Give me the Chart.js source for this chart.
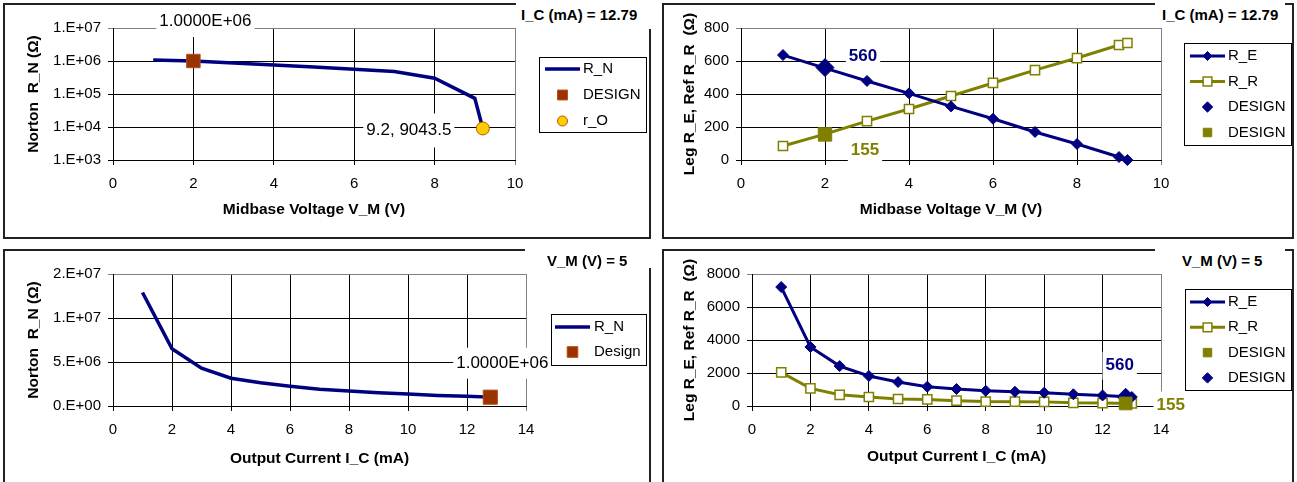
<!DOCTYPE html>
<html>
<head>
<meta charset="utf-8">
<script src="https://cdn.jsdelivr.net/npm/chart.js@4.4.0/dist/chart.umd.min.js"></script>
<style>
body { margin: 0; width: 1297px; height: 482px; overflow: hidden; position: relative; background: #fff; font-family: 'Liberation Sans', Arial, sans-serif; }
.panel { position: absolute; box-sizing: border-box; border: 2px solid #222; }
canvas { position: absolute; }
.tag { position: absolute; background: #fff; font-weight: bold; font-size: 15px; white-space: nowrap; color: #000; }
</style>
</head>
<body>
<div class="panel" style="left:3px;top:3px;width:648px;height:236px"></div>
<div class="panel" style="left:662px;top:3px;width:632px;height:236px"></div>
<div class="panel" style="left:3px;top:249px;width:648px;height:240px"></div>
<div class="panel" style="left:662px;top:249px;width:632px;height:240px"></div>

<canvas id="tl" width="647" height="235" style="left:3px;top:3px"></canvas>
<canvas id="tr" width="631" height="235" style="left:662px;top:3px"></canvas>
<canvas id="bl" width="647" height="231" style="left:3px;top:249px"></canvas>
<canvas id="br" width="631" height="231" style="left:662px;top:249px"></canvas>

<div class="tag" style="left:516px;top:1px;width:132px;height:28px;line-height:28px;padding-left:5px">I_C (mA) = 12.79</div>
<div class="tag" style="left:1155px;top:1px;width:123px;height:27px;line-height:28px;padding-left:7px">I_C (mA) = 12.79</div>
<div class="tag" style="left:525px;top:247px;width:106px;height:21px;line-height:28px;padding-left:22px">V_M (V) = 5</div>
<div class="tag" style="left:1155px;top:247px;width:103px;height:22px;line-height:28px;padding-left:27px">V_M (V) = 5</div>

<script>
// ---- data ----
// top row: sweep of midbase voltage V_M at I_C = 12.79 mA
const vmSweep = [1, 2, 3, 4, 5, 6, 7, 8, 9, 9.2];
const rnVsVm = [1.07e6, 1.0e6, 8.7e5, 7.6e5, 6.6e5, 5.6e5, 4.8e5, 3.0e5, 7.4e4, 9043.5];
const reVsVm = [636, 557, 479, 404, 325, 250, 170, 97, 18, 0];
const rrVsVm = [85, 157, 236, 309, 388, 467, 545, 618, 697, 709];
const vmDesign = 2;
const rnDesignVm = 1.0e6;
const reDesignVm = 560;
const rrDesignVm = 155;
const roPoint = [9.2, 9043.5];

// bottom row: sweep of output current I_C at V_M = 5 V
const icSweep = [1, 2, 3, 4, 5, 6, 7, 8, 9, 10, 11, 12, 13];
const rnVsIc = [1.29e7, 6.5e6, 4.3e6, 3.15e6, 2.65e6, 2.25e6, 1.9e6, 1.7e6, 1.5e6, 1.35e6, 1.2e6, 1.1e6, 9.8e5];
const reVsIc = [7210, 3580, 2420, 1820, 1450, 1170, 1030, 925, 865, 805, 710, 640, 545];
const rrVsIc = [2040, 1070, 680, 545, 425, 400, 320, 270, 260, 250, 190, 180, 150];
const icDesign = 12.79;
const rnDesignIc = 1.0e6;
const reDesignIc = 560;
const rrDesignIc = 155;

// axis tick values
const logDecades = [1e3, 1e4, 1e5, 1e6, 1e7];

const NAVY = '#000080';
const OLIVE = '#808000';
const BROWN = '#993300';
const YELLOW = '#FFCC00';
const FONT = "'Liberation Sans', Arial, sans-serif";

Chart.defaults.font.family = FONT;
Chart.defaults.font.size = 15;
Chart.defaults.color = '#000';

function pts(xs, ys) {
  return xs.map((x, i) => ({ x: x, y: ys[i] }));
}

function sciTick(v) {
  if (v === 0) return '0.E+00';
  let e = Math.floor(Math.log10(v) + 1e-9);
  let m = Math.round(v / Math.pow(10, e));
  if (m === 10) { m = 1; e++; }
  return m + '.E' + (e < 0 ? '-' : '+') + String(Math.abs(e)).padStart(2, '0');
}

function drawMarker(ctx, style, x, y, r, fill, stroke, lw) {
  ctx.save();
  ctx.beginPath();
  if (style === 'rectRot') {
    ctx.moveTo(x - r, y); ctx.lineTo(x, y - r); ctx.lineTo(x + r, y); ctx.lineTo(x, y + r); ctx.closePath();
  } else if (style === 'rect') {
    const s = r * Math.SQRT1_2;
    ctx.rect(x - s, y - s, 2 * s, 2 * s);
  } else {
    ctx.arc(x, y, r, 0, Math.PI * 2);
  }
  ctx.fillStyle = fill;
  ctx.fill();
  if (lw > 0) { ctx.strokeStyle = stroke; ctx.lineWidth = lw; ctx.stroke(); }
  ctx.restore();
}

// excel style legend box, drawn from the datasets themselves
const boxLegend = {
  id: 'boxLegend',
  afterDraw(chart, args, opts) {
    if (!opts.w) return;
    const ctx = chart.ctx;
    ctx.save();
    ctx.fillStyle = '#fff';
    ctx.fillRect(opts.x, opts.y, opts.w, opts.h);
    ctx.strokeStyle = '#000';
    ctx.lineWidth = 1;
    ctx.strokeRect(opts.x + 0.5, opts.y + 0.5, opts.w, opts.h);
    ctx.font = '15px ' + FONT;
    ctx.textBaseline = 'middle';
    chart.data.datasets.forEach((ds, i) => {
      const y = opts.rowY + i * opts.rowGap;
      if (ds.showLine) {
        ctx.strokeStyle = ds.borderColor;
        ctx.lineWidth = ds.borderWidth;
        ctx.beginPath();
        ctx.moveTo(opts.lineX0, y);
        ctx.lineTo(opts.lineX1, y);
        ctx.stroke();
      }
      const r = opts.radius[i];
      if (r) {
        drawMarker(ctx, ds.pointStyle, (opts.lineX0 + opts.lineX1) / 2, y, r,
          ds.pointBackgroundColor, ds.pointBorderColor, Math.min(ds.pointBorderWidth || 0, 1.5));
      }
      ctx.fillStyle = '#000';
      ctx.fillText(ds.label, opts.textX, y);
    });
    ctx.restore();
  }
};

// value labels with a white backing, placed relative to a data point
const pointTags = {
  id: 'pointTags',
  afterDatasetsDraw(chart, args, opts) {
    const ctx = chart.ctx;
    (opts.items || []).forEach(t => {
      const el = chart.getDatasetMeta(t.ds).data[t.idx];
      const x = el.x + t.dx;
      const y = el.y + t.dy;
      ctx.save();
      ctx.font = (t.bold ? 'bold ' : '') + '17px ' + FONT;
      const w = ctx.measureText(t.text).width + 6;
      ctx.fillStyle = '#fff';
      ctx.fillRect(x - w / 2, y - t.h / 2, w, t.h);
      ctx.fillStyle = t.color || '#000';
      ctx.textAlign = 'center';
      ctx.textBaseline = 'middle';
      ctx.fillText(t.text, x, y);
      ctx.restore();
    });
  }
};

function gridColor(max) {
  return c => (c.tick && Math.abs(c.tick.value - max) < 1e-6 * Math.max(1, max)) ? '#808080' : '#000';
}

function xAxis(max, title, height, titlePad) {
  return {
    type: 'linear', min: 0, max: max,
    ticks: { stepSize: 2, padding: 10, color: '#000', font: { size: 15 } },
    grid: { color: gridColor(max), tickLength: 5, lineWidth: 1 },
    border: { color: '#000', width: 1 },
    title: { display: true, text: title, color: '#000', font: { size: 15.5, weight: 'bold' }, padding: { top: 0, bottom: titlePad } },
    afterFit: s => { s.height = height; }
  };
}

function yAxis(extra, max, title, width, titlePad) {
  return Object.assign({
    ticks: { padding: 7, color: '#000', font: { size: 15 } },
    grid: { color: gridColor(max), tickLength: 5, lineWidth: 1 },
    border: { color: '#000', width: 1 },
    title: { display: true, text: title, color: '#000', font: { size: 15.5, weight: 'bold' }, padding: { top: titlePad, bottom: 0 } },
    afterFit: s => { s.width = width; }
  }, extra);
}

function baseOptions(padRight, scales, legend, tags) {
  return {
    responsive: false,
    animation: false,
    events: [],
    devicePixelRatio: 1,
    layout: { padding: { left: 0, top: 25, right: padRight, bottom: 0 } },
    scales: scales,
    plugins: { legend: { display: false }, tooltip: { enabled: false }, boxLegend: legend, pointTags: { items: tags } }
  };
}

// ---- top left: Norton R_N vs V_M (log) ----
const tlY = yAxis({ type: 'logarithmic', min: 1e3, max: 1e7 }, 1e7, 'Norton  R_N (Ω)', 110, 21);
tlY.afterBuildTicks = s => { s.ticks = logDecades.map(v => ({ value: v })); };
tlY.ticks.callback = v => sciTick(v);
new Chart(document.getElementById('tl'), {
  type: 'scatter',
  data: {
    datasets: [
      { label: 'R_N', data: pts(vmSweep, rnVsVm), showLine: true, borderColor: NAVY, borderWidth: 3.5, pointRadius: 0, order: 2, clip: false },
      { label: 'DESIGN', data: [{ x: vmDesign, y: rnDesignVm }], showLine: false, pointStyle: 'rect', pointRadius: 9.5,
        pointBackgroundColor: BROWN, pointBorderColor: '#b34d1a', pointBorderWidth: 1, order: 0, clip: false },
      { label: 'r_O', data: [{ x: roPoint[0], y: roPoint[1] }], showLine: false, pointStyle: 'circle', pointRadius: 6.5,
        pointBackgroundColor: YELLOW, pointBorderColor: '#b35900', pointBorderWidth: 1, order: 0, clip: false }
    ]
  },
  options: baseOptions(135, {
    x: xAxis(10, 'Midbase Voltage V_M (V)', 78, 19),
    y: tlY
  }, { x: 536, y: 54, w: 107, h: 75, rowY: 66, rowGap: 26, lineX0: 542, lineX1: 577, textX: 580, radius: [0, 7, 5] }, [
    { ds: 1, idx: 0, text: '1.0000E+06', dx: 12, dy: -40, h: 32 },
    { ds: 2, idx: 0, text: '9.2, 9043.5', dx: -74, dy: 2, h: 34 }
  ]),
  plugins: [pointTags, boxLegend]
});

// ---- top right: R_E, R_R vs V_M ----
const trY = yAxis({ type: 'linear', min: 0, max: 800 }, 800, 'Leg R_E, Ref R_R  (Ω)', 79, 18);
trY.ticks.stepSize = 200;
new Chart(document.getElementById('tr'), {
  type: 'scatter',
  data: {
    datasets: [
      { label: 'R_E', data: pts(vmSweep, reVsVm), showLine: true, borderColor: NAVY, borderWidth: 3, pointStyle: 'rectRot', pointRadius: 5.5,
        pointBackgroundColor: NAVY, pointBorderColor: NAVY, pointBorderWidth: 1, order: 1, clip: false },
      { label: 'R_R', data: pts(vmSweep, rrVsVm), showLine: true, borderColor: OLIVE, borderWidth: 3, pointStyle: 'rect', pointRadius: 6.5,
        pointBackgroundColor: '#fff', pointBorderColor: OLIVE, pointBorderWidth: 1.5, order: 2, clip: false },
      { label: 'DESIGN', data: [{ x: vmDesign, y: reDesignVm }], showLine: false, pointStyle: 'rectRot', pointRadius: 9,
        pointBackgroundColor: NAVY, pointBorderColor: NAVY, pointBorderWidth: 1, order: 0, clip: false },
      { label: 'DESIGN', data: [{ x: vmDesign, y: rrDesignVm }], showLine: false, pointStyle: 'rect', pointRadius: 9.5,
        pointBackgroundColor: OLIVE, pointBorderColor: OLIVE, pointBorderWidth: 1, order: 0, clip: false }
    ]
  },
  options: baseOptions(132, {
    x: xAxis(10, 'Midbase Voltage V_M (V)', 78, 19),
    y: trY
  }, { x: 522, y: 40, w: 107, h: 102, rowY: 53, rowGap: 25.5, lineX0: 528, lineX1: 563, textX: 566, radius: [4.5, 6.2, 5.2, 6] }, [
    { ds: 2, idx: 0, text: '560', dx: 38, dy: -11, h: 28, bold: true, color: NAVY },
    { ds: 3, idx: 0, text: '155', dx: 40, dy: 16, h: 28, bold: true, color: OLIVE }
  ]),
  plugins: [pointTags, boxLegend]
});

// ---- bottom left: Norton R_N vs I_C ----
const blY = yAxis({ type: 'linear', min: 0, max: 1.5e7 }, 1.5e7, 'Norton  R_N (Ω)', 110, 21);
blY.ticks.stepSize = 5e6;
blY.ticks.callback = v => sciTick(v);
new Chart(document.getElementById('bl'), {
  type: 'scatter',
  data: {
    datasets: [
      { label: 'R_N', data: pts(icSweep, rnVsIc), showLine: true, borderColor: NAVY, borderWidth: 3.5, pointRadius: 0, order: 2, clip: false },
      { label: 'Design', data: [{ x: icDesign, y: rnDesignIc }], showLine: false, pointStyle: 'rect', pointRadius: 10,
        pointBackgroundColor: BROWN, pointBorderColor: '#b34d1a', pointBorderWidth: 1, order: 0, clip: false }
    ]
  },
  options: baseOptions(124, {
    x: xAxis(14, 'Output Current I_C (mA)', 74, 12),
    y: blY
  }, { x: 548, y: 65, w: 95, h: 51, rowY: 78, rowGap: 25, lineX0: 552, lineX1: 587, textX: 591, radius: [0, 7.5] }, [
    { ds: 1, idx: 0, text: '1.0000E+06', dx: 12, dy: -34, h: 31 }
  ]),
  plugins: [pointTags, boxLegend]
});

// ---- bottom right: R_E, R_R vs I_C ----
const brY = yAxis({ type: 'linear', min: 0, max: 8000 }, 8000, 'Leg R_E, Ref R_R  (Ω)', 90, 18);
brY.ticks.stepSize = 2000;
brY.ticks.callback = v => String(v);
new Chart(document.getElementById('br'), {
  type: 'scatter',
  data: {
    datasets: [
      { label: 'R_E', data: pts(icSweep, reVsIc), showLine: true, borderColor: NAVY, borderWidth: 3, pointStyle: 'rectRot', pointRadius: 5.5,
        pointBackgroundColor: NAVY, pointBorderColor: NAVY, pointBorderWidth: 1, order: 1, clip: false },
      { label: 'R_R', data: pts(icSweep, rrVsIc), showLine: true, borderColor: OLIVE, borderWidth: 3, pointStyle: 'rect', pointRadius: 6.5,
        pointBackgroundColor: '#fff', pointBorderColor: OLIVE, pointBorderWidth: 1.5, order: 2, clip: false },
      { label: 'DESIGN', data: [{ x: icDesign, y: rrDesignIc }], showLine: false, pointStyle: 'rect', pointRadius: 9,
        pointBackgroundColor: OLIVE, pointBorderColor: OLIVE, pointBorderWidth: 1, order: 0, clip: false },
      { label: 'DESIGN', data: [{ x: icDesign, y: reDesignIc }], showLine: false, pointStyle: 'rectRot', pointRadius: 8.5,
        pointBackgroundColor: NAVY, pointBorderColor: NAVY, pointBorderWidth: 1, order: 0, clip: false }
    ]
  },
  options: baseOptions(132, {
    x: xAxis(14, 'Output Current I_C (mA)', 74, 14),
    y: brY
  }, { x: 523, y: 40, w: 106, h: 101, rowY: 53, rowGap: 25.3, lineX0: 528, lineX1: 563, textX: 566, radius: [4.5, 6.2, 6, 5.2] }, [
    { ds: 3, idx: 0, text: '560', dx: -6, dy: -31, h: 28, bold: true, color: NAVY },
    { ds: 2, idx: 0, text: '155', dx: 45, dy: 2, h: 28, bold: true, color: OLIVE }
  ]),
  plugins: [pointTags, boxLegend]
});
</script>
</body>
</html>
